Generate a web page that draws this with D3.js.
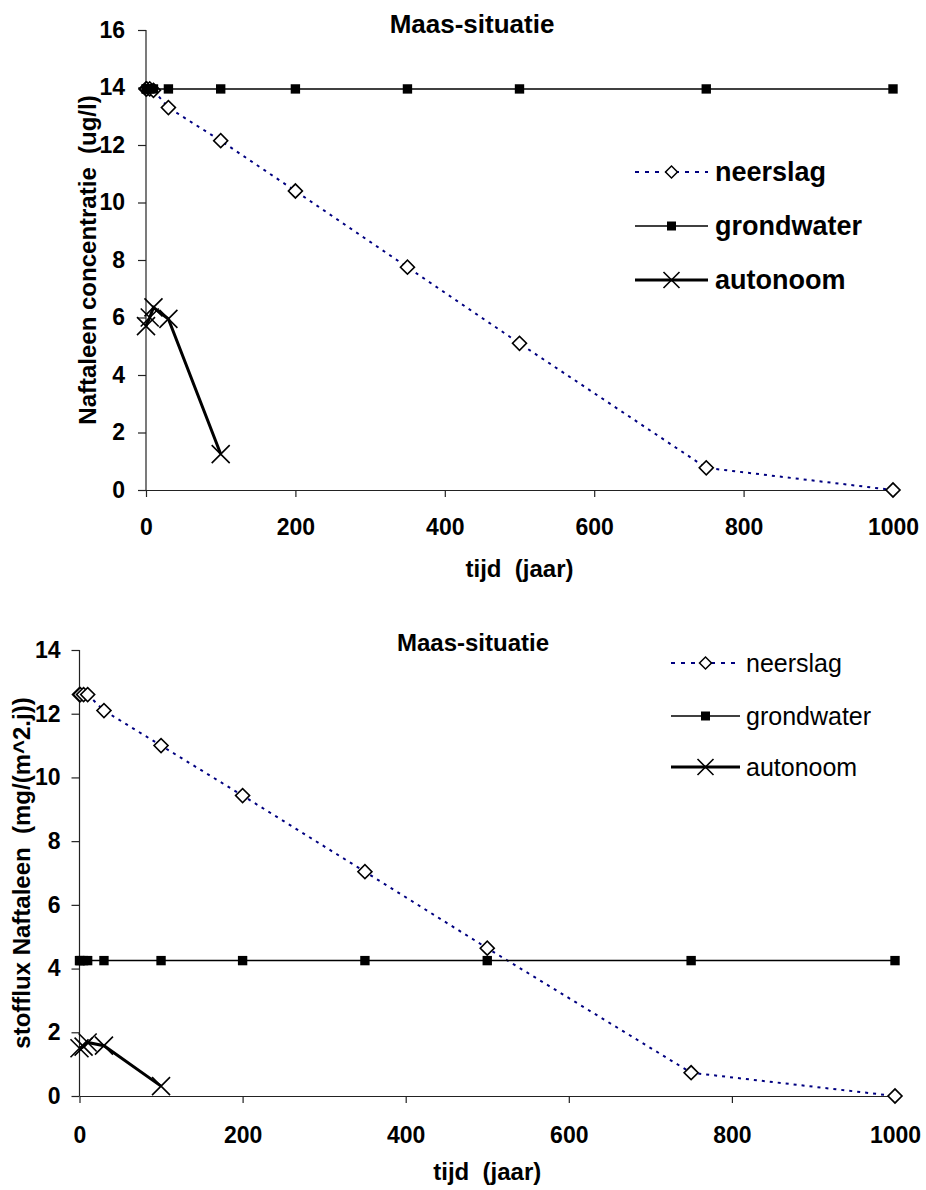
<!DOCTYPE html>
<html>
<head>
<meta charset="utf-8">
<script src="https://cdn.jsdelivr.net/npm/d3@7"></script>
<style>
  html, body { margin: 0; padding: 0; background: #fff; }
  svg { display: block; font-family: "Liberation Sans", Arial, sans-serif; }
</style>
</head>
<body>
<svg id="chart" width="926" height="1190"></svg>
<script>
// Time points (years)
const tijd = [0, 1, 5, 10, 30, 100, 200, 350, 500, 750, 1000];
const tijdAutonoom = [0, 5, 10, 30, 100];

// Concentration of naphthalene (ug/l)
const concNeerslag   = [13.95, 13.95, 13.95, 13.9, 13.3, 12.15, 10.4, 7.75, 5.1, 0.77, 0.0];
const concGrondwater = [13.95, 13.95, 13.95, 13.95, 13.95, 13.95, 13.95, 13.95, 13.95, 13.95, 13.95];
const concAutonoom   = [5.7, 6.0, 6.35, 5.95, 1.25];

// Mass flux of naphthalene (mg/(m^2.j))
const fluxNeerslag   = [12.6, 12.6, 12.6, 12.6, 12.1, 11.0, 9.43, 7.04, 4.64, 0.73, 0.0];
const fluxGrondwater = [4.25, 4.25, 4.25, 4.25, 4.25, 4.25, 4.25, 4.25, 4.25, 4.25, 4.25];
const fluxAutonoom   = [1.5, 1.55, 1.68, 1.58, 0.31];

const xTicks = [0, 200, 400, 600, 800, 1000];
const yTicksTop = [0, 2, 4, 6, 8, 10, 12, 14, 16];
const yTicksBottom = [0, 2, 4, 6, 8, 10, 12, 14];
const seriesNames = ["neerslag", "grondwater", "autonoom"];

const svg = d3.select("#chart");
const cross = r => `M${-r},${-r}L${r},${r}M${-r},${r}L${r},${-r}`;

function drawChart(cfg) {
  const x = d3.scaleLinear().domain([0, 1000]).range([cfg.left, cfg.right]);
  const y = d3.scaleLinear().domain([0, cfg.yMax]).range([cfg.bottom, cfg.top]);
  const g = svg.append("g");

  // Axes
  const xAxis = g.append("g")
    .attr("transform", `translate(0,${cfg.bottom})`)
    .call(d3.axisBottom(x).tickValues(xTicks).tickFormat(d3.format("d"))
      .tickSize(7).tickSizeOuter(0).tickPadding(cfg.xPad));
  const yAxis = g.append("g")
    .attr("transform", `translate(${cfg.left},0)`)
    .call(d3.axisLeft(y).tickValues(cfg.yTicks).tickFormat(d3.format("d"))
      .tickSize(8).tickSizeOuter(0).tickPadding(cfg.yPad));
  [xAxis, yAxis].forEach(a => {
    a.selectAll("path.domain").attr("stroke", "#222").attr("stroke-width", 1.2);
    a.selectAll(".tick line").attr("stroke", "#222").attr("stroke-width", 1.2);
    a.selectAll(".tick text")
      .attr("fill", "#000")
      .style("font-family", "'Liberation Sans', Arial, sans-serif")
      .style("font-weight", "bold")
      .style("font-size", cfg.tickFont + "px");
  });
  // y axis line runs from the top tick down to the x axis
  yAxis.select("path.domain").attr("d", `M0,${y(cfg.yMax)}V${cfg.bottom}`);

  // Titles
  g.append("text")
    .attr("x", cfg.titleX).attr("y", cfg.titleY)
    .attr("text-anchor", "middle")
    .style("font-weight", "bold").style("font-size", cfg.titleFont + "px")
    .text("Maas-situatie");
  g.append("text")
    .attr("x", (cfg.left + cfg.right) / 2).attr("y", cfg.xTitleY)
    .attr("text-anchor", "middle")
    .style("font-weight", "bold").style("font-size", cfg.axisFont + "px")
    .style("white-space", "pre")
    .text("tijd  (jaar)");
  g.append("text")
    .attr("transform", `translate(${cfg.yTitleX},${(cfg.top + cfg.bottom) / 2}) rotate(-90)`)
    .attr("text-anchor", "middle")
    .style("font-weight", "bold").style("font-size", cfg.axisFont + "px")
    .style("white-space", "pre")
    .text(cfg.yTitle);

  const line = d3.line().x(d => x(d[0])).y(d => y(d[1]));
  const neer = tijd.map((t, i) => [t, cfg.neerslag[i]]);
  const grond = tijd.map((t, i) => [t, cfg.grondwater[i]]);
  const auto = tijdAutonoom.map((t, i) => [t, cfg.autonoom[i]]);

  // Series 1: neerslag (dotted navy line, open diamonds)
  g.append("path").datum(neer).attr("d", line)
    .attr("fill", "none").attr("stroke", "#000080").attr("stroke-width", 2)
    .attr("stroke-dasharray", "3,5");
  const diamondSym = d3.symbol().type(d3.symbolSquare).size(98);
  g.selectAll(".dm").data(neer).join("path")
    .attr("class", "dm")
    .attr("transform", d => `translate(${x(d[0])},${y(d[1])}) rotate(45)`)
    .attr("d", diamondSym).attr("fill", "#fff").attr("stroke", "#000").attr("stroke-width", 1.6);

  // Series 2: grondwater (thin black line, filled squares)
  g.append("path").datum(grond).attr("d", line)
    .attr("fill", "none").attr("stroke", "#000").attr("stroke-width", 1.5);
  const squareSym = d3.symbol().type(d3.symbolSquare).size(88);
  g.selectAll(".sq").data(grond).join("path")
    .attr("class", "sq")
    .attr("transform", d => `translate(${x(d[0])},${y(d[1])})`)
    .attr("d", squareSym).attr("fill", "#000");

  // Series 3: autonoom (thick black line, crosses)
  g.append("path").datum(auto).attr("d", line)
    .attr("fill", "none").attr("stroke", "#000").attr("stroke-width", 3);
  g.selectAll(".cx").data(auto).join("path")
    .attr("class", "cx")
    .attr("transform", d => `translate(${x(d[0])},${y(d[1])})`)
    .attr("d", cross(9)).attr("fill", "none").attr("stroke", "#000").attr("stroke-width", 1.6);

  // Legend
  const lg = cfg.legend;
  seriesNames.forEach((name, i) => {
    const ly = lg.rows[i];
    const row = g.append("g");
    const ln = row.append("line")
      .attr("x1", lg.x1).attr("x2", lg.x2).attr("y1", ly).attr("y2", ly);
    const mx = (lg.x1 + lg.x2) / 2;
    if (name === "neerslag") {
      ln.attr("stroke", "#000080").attr("stroke-width", 2).attr("stroke-dasharray", "4,6");
      row.append("path").attr("transform", `translate(${mx},${ly}) rotate(45)`)
        .attr("d", d3.symbol().type(d3.symbolSquare).size(72)).attr("fill", "#fff")
        .attr("stroke", "#000").attr("stroke-width", 1.5);
    } else if (name === "grondwater") {
      ln.attr("stroke", "#000").attr("stroke-width", 1.5);
      row.append("path").attr("transform", `translate(${mx},${ly})`)
        .attr("d", d3.symbol().type(d3.symbolSquare).size(81)).attr("fill", "#000");
    } else {
      ln.attr("stroke", "#000").attr("stroke-width", 3);
      row.append("path").attr("transform", `translate(${mx},${ly})`)
        .attr("d", cross(8)).attr("fill", "none").attr("stroke", "#000").attr("stroke-width", 1.6);
    }
    row.append("text")
      .attr("x", lg.textX).attr("y", ly).attr("dy", "0.35em")
      .style("font-weight", lg.bold ? "bold" : "normal")
      .style("font-size", lg.font + "px")
      .text(name);
  });
}

drawChart({
  left: 146, right: 893, top: 30, bottom: 490, yMax: 16, yTicks: yTicksTop,
  neerslag: concNeerslag, grondwater: concGrondwater, autonoom: concAutonoom,
  tickFont: 23, axisFont: 24, titleFont: 26, xPad: 22, yPad: 13,
  titleX: 472, titleY: 33, xTitleY: 577, yTitleX: 96,
  yTitle: "Naftaleen concentratie  (ug/l)",
  legend: { x1: 635, x2: 708, textX: 715, rows: [172, 226, 280], font: 27, bold: true }
});

drawChart({
  left: 79.5, right: 895, top: 650, bottom: 1096, yMax: 14, yTicks: yTicksBottom,
  neerslag: fluxNeerslag, grondwater: fluxGrondwater, autonoom: fluxAutonoom,
  tickFont: 23, axisFont: 24, titleFont: 24, xPad: 24, yPad: 11,
  titleX: 473, titleY: 651, xTitleY: 1180, yTitleX: 30,
  yTitle: "stofflux Naftaleen  (mg/(m^2.j))",
  legend: { x1: 671, x2: 740, textX: 746, rows: [663, 716, 767], font: 25, bold: false }
});
</script>
</body>
</html>
